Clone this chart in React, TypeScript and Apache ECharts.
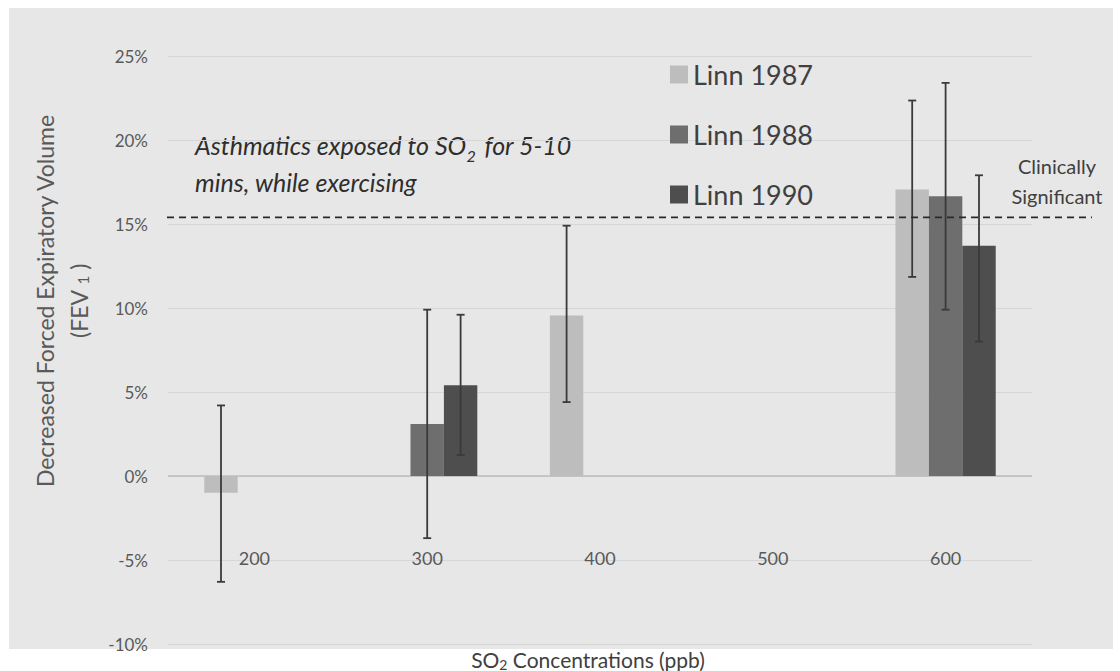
import React, { useEffect, useRef } from "react";
import * as echarts from "echarts";

// ---- data ----
const categories = ["200", "300", "400", "500", "600"];
const seriesNames = ["Linn 1987", "Linn 1988", "Linn 1990"];
const linn1987 = [-1.0, null, 9.55, null, 17.05];
const linn1988 = [null, 3.1, null, null, 16.65];
const linn1990 = [null, 5.4, null, null, 13.7];
const linn1987Low = [-6.3, null, 4.4, null, 11.85];
const linn1987High = [4.2, null, 14.9, null, 22.35];
const linn1988Low = [null, -3.7, null, null, 9.9];
const linn1988High = [null, 9.9, null, null, 23.4];
const linn1990Low = [null, 1.25, null, null, 8.0];
const linn1990High = [null, 9.6, null, null, 17.9];
const yMin = -10;
const yMax = 25;
const yInterval = 5;
const clinicalThreshold = 15.4;

const barColors = ["#bdbdbd", "#6e6e6e", "#4e4e4e"];
const FONT = "Lato";
const GAP = 0.42;

export default function App() {
  const ref = useRef<HTMLDivElement>(null);
  useEffect(() => {
    const chart = echarts.init(ref.current!, null, { renderer: "svg" });
    const values = [linn1987, linn1988, linn1990];
    const lows = [linn1987Low, linn1988Low, linn1990Low];
    const highs = [linn1987High, linn1988High, linn1990High];

    const barSeries: any[] = seriesNames.map((name, i) => ({
      name,
      type: "bar",
      data: values[i],
      barCategoryGap: "42%",
      barGap: "0%",
      itemStyle: { color: barColors[i] },
      z: 2,
    }));
    barSeries[0].markLine = {
      silent: true,
      symbol: "none",
      label: { show: false },
      lineStyle: { color: "#bcbcbc", width: 1.5, type: "solid" },
      data: [{ yAxis: 0 }],
      z: 1,
    };

    const errSeries = seriesNames.map((name, i) => {
      const data: any[] = [];
      categories.forEach((_, c) => {
        if (lows[i][c] != null && highs[i][c] != null) data.push([c, lows[i][c], highs[i][c]]);
      });
      return {
        name: name + " error",
        type: "custom",
        z: 4,
        silent: true,
        data,
        encode: { x: 0, y: [1, 2] },
        renderItem: (params: any, api: any) => {
          const c = api.value(0);
          const x0 = api.coord([c, 0])[0];
          const band = api.size([1, 0])[0];
          const barW = (band * (1 - GAP)) / 3;
          const cx = x0 + (i - 1) * barW;
          const yl = api.coord([c, api.value(1)])[1];
          const yh = api.coord([c, api.value(2)])[1];
          const st = { stroke: "#3a3a3a", lineWidth: 1.8 };
          return {
            type: "group",
            children: [
              { type: "line", shape: { x1: cx, y1: yl, x2: cx, y2: yh }, style: st },
              { type: "line", shape: { x1: cx - 4, y1: yl, x2: cx + 4, y2: yl }, style: st },
              { type: "line", shape: { x1: cx - 4, y1: yh, x2: cx + 4, y2: yh }, style: st },
            ],
          };
        },
      };
    });

    const thresholdSeries = {
      name: "Clinically Significant",
      type: "custom",
      z: 5,
      silent: true,
      data: [[0, clinicalThreshold]],
      encode: { x: 0, y: 1 },
      renderItem: (params: any, api: any) => {
        const y = api.coord([0, api.value(1)])[1];
        const cs = params.coordSys;
        const x1 = cs.x - 1;
        const x2 = cs.x + cs.width + 60;
        return {
          type: "group",
          children: [
            {
              type: "line",
              shape: { x1, y1: y, x2, y2: y },
              style: { stroke: "#2a2a2a", lineWidth: 1.8, lineDash: [7, 5] },
            },
            {
              type: "text",
              x: x2 - 35,
              y: y - 6,
              style: {
                text: "Clinically\nSignificant",
                fontFamily: FONT,
                fontSize: 20,
                lineHeight: 30,
                fill: "#404040",
                align: "center",
                verticalAlign: "bottom",
              },
            },
          ],
        };
      },
    };

    const option: any = {
      animation: false,
      backgroundColor: "#ffffff",
      textStyle: { fontFamily: FONT },
      grid: { left: 168, right: 88, top: 56, bottom: 27, containLabel: false, outerBoundsMode: "none" },
      legend: {
        data: seriesNames,
        orient: "vertical",
        left: 665,
        top: 56,
        itemWidth: 18,
        itemHeight: 18,
        itemGap: 33,
        icon: "rect",
        selectedMode: false,
        textStyle: { fontSize: 27, color: "#404040", fontFamily: FONT },
      },
      xAxis: {
        type: "category",
        data: categories,
        axisLine: { show: false, onZero: false },
        axisTick: { show: false },
        axisLabel: { margin: -95, fontSize: 18, color: "#595959", fontFamily: FONT },
        splitLine: { show: false },
      },
      yAxis: {
        type: "value",
        min: yMin,
        max: yMax,
        interval: yInterval,
        axisLine: { show: false },
        axisTick: { show: false },
        axisLabel: { formatter: "{value}%", fontSize: 17, color: "#595959", margin: 20, fontFamily: FONT },
        splitLine: { lineStyle: { color: "#d6d6d6", width: 1 } },
      },
      graphic: [
        {
          type: "rect",
          z: -100,
          silent: true,
          shape: { x: 9, y: 8, width: 1104, height: 641 },
          style: { fill: "#e7e7e7" },
        },
        {
          type: "text",
          x: 45,
          y: 301,
          rotation: Math.PI / 2,
          style: {
            text: "Decreased Forced Expiratory Volume",
            fontFamily: FONT,
            fontSize: 23,
            fill: "#595959",
            align: "center",
            verticalAlign: "middle",
          },
        },
        {
          type: "text",
          x: 79,
          y: 301,
          rotation: Math.PI / 2,
          style: {
            text: "(FEV {s|1} )",
            fontFamily: FONT,
            fontSize: 23,
            fill: "#595959",
            align: "center",
            verticalAlign: "middle",
            rich: { s: { fontSize: 15, fill: "#595959", fontFamily: FONT, verticalAlign: "bottom" } },
          },
        },
        {
          type: "text",
          x: 195,
          y: 126,
          style: {
            text: "Asthmatics exposed to SO{s|2} for 5-10\nmins, while exercising",
            fontFamily: FONT,
            fontStyle: "italic",
            fontSize: 25,
            lineHeight: 37,
            fill: "#2e2e2e",
            align: "left",
            verticalAlign: "top",
            rich: {
              s: { fontSize: 16, fontStyle: "italic", fill: "#2e2e2e", fontFamily: FONT, verticalAlign: "bottom", lineHeight: 31, padding: [0, 3, 0, 0] },
            },
          },
        },
        {
          type: "text",
          x: 588,
          y: 659,
          style: {
            text: "SO{s|2} Concentrations (ppb)",
            fontFamily: FONT,
            fontSize: 21,
            fill: "#404040",
            align: "center",
            verticalAlign: "middle",
            rich: { s: { fontSize: 14, fill: "#404040", fontFamily: FONT, verticalAlign: "bottom", lineHeight: 24 } },
          },
        },
      ],
      series: [...barSeries, ...errSeries, thresholdSeries],
    };
    chart.setOption(option);
    return () => chart.dispose();
  }, []);
  return <div ref={ref} style={{ position: "fixed", left: 0, top: 0, width: 1120, height: 671 }} />;
}
